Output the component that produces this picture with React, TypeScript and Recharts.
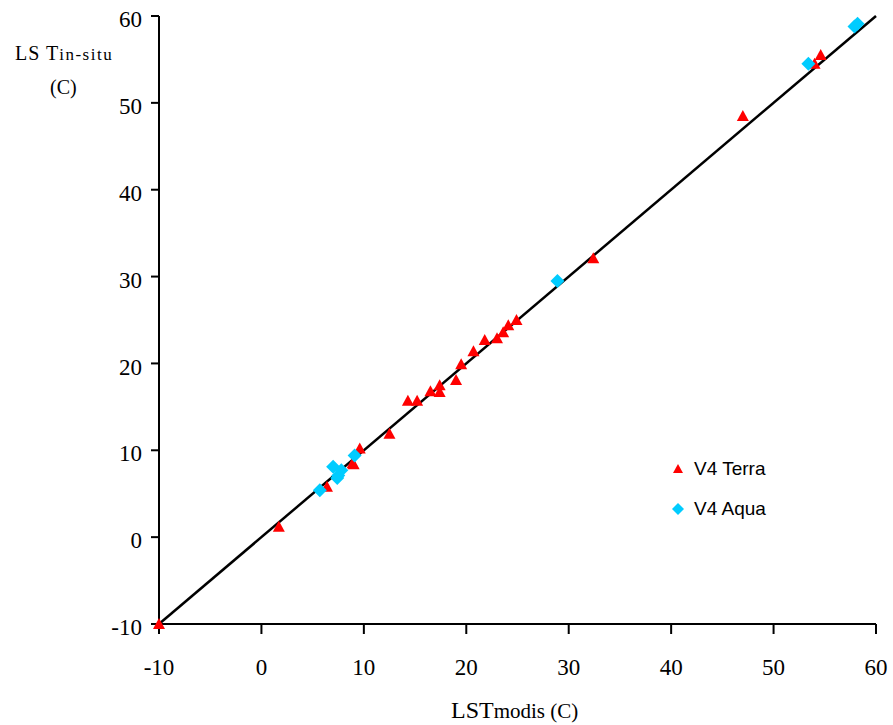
import { ScatterChart, Scatter, XAxis, YAxis, ReferenceLine } from "recharts";

// LSTmodis vs LSTin-situ
const terraX = [-10, 1.7, 6.4, 8.9, 9.0, 9.6, 12.5, 14.3, 15.2, 16.5, 17.4, 17.4, 19.0, 19.5, 20.7, 21.8, 23.0, 23.6, 24.1, 24.9, 32.4, 47.0, 54.0, 54.6];
const terraY = [-10, 1.2, 5.8, 8.5, 8.4, 10.2, 11.9, 15.7, 15.7, 16.8, 17.5, 16.7, 18.1, 19.9, 21.4, 22.7, 22.9, 23.6, 24.4, 25.0, 32.1, 48.5, 54.5, 55.5];

const aquaX = [5.7, 7.0, 7.4, 7.5, 7.8, 9.1, 28.9, 53.4, 57.9, 58.2];
const aquaY = [5.4, 8.1, 6.8, 7.1, 7.7, 9.4, 29.5, 54.5, 58.8, 59.1];

const axisTicks = [-10, 0, 10, 20, 30, 40, 50, 60];
const seriesNames = ["V4 Terra", "V4 Aqua"];

const terraData = terraX.map((x, i) => ({ x, y: terraY[i] }));
const aquaData = aquaX.map((x, i) => ({ x, y: aquaY[i] }));

const RED = "#ff0000";
const CYAN = "#00ccff";
const SERIF = "'Liberation Serif', 'Times New Roman', serif";
const SANS = "'Liberation Sans', Arial, sans-serif";

function Triangle(props: any) {
  const { cx, cy } = props;
  return <path d={`M${cx},${cy - 6} L${cx + 6},${cy + 5} L${cx - 6},${cy + 5} Z`} fill={RED} />;
}

function Diamond(props: any) {
  const { cx, cy } = props;
  return <path d={`M${cx},${cy - 7} L${cx + 7},${cy} L${cx},${cy + 7} L${cx - 7},${cy} Z`} fill={CYAN} />;
}

function LegendBox() {
  return (
    <div style={{ fontFamily: SANS, fontSize: 19, color: "#000", lineHeight: "40px" }}>
      <div style={{ display: "flex", alignItems: "center" }}>
        <svg width={16} height={16} style={{ marginRight: 8 }}>
          <path d="M8,3 L13,12 L3,12 Z" fill={RED} />
        </svg>
        {seriesNames[0]}
      </div>
      <div style={{ display: "flex", alignItems: "center" }}>
        <svg width={16} height={16} style={{ marginRight: 8 }}>
          <path d="M8,2 L14,8 L8,14 L2,8 Z" fill={CYAN} />
        </svg>
        {seriesNames[1]}
      </div>
    </div>
  );
}

export default function App() {
  const tick = { fontSize: 23, fill: "#000", fontFamily: SERIF };
  return (
    <div style={{ position: "absolute", left: 0, top: 0, width: 893, height: 725, background: "#fff" }}>
      <ScatterChart width={893} height={725} margin={{ top: 16, right: 17, bottom: 0, left: 0 }}>
        <XAxis
          type="number"
          dataKey="x"
          domain={[-10, 60]}
          ticks={axisTicks}
          height={101}
          tick={tick}
          tickSize={10}
          tickMargin={25}
          stroke="#000"
          strokeWidth={2}
        />
        <YAxis
          type="number"
          dataKey="y"
          domain={[-10, 60]}
          ticks={axisTicks}
          width={159}
          tick={{ ...tick, dy: 3 }}
          tickSize={8}
          tickMargin={9}
          stroke="#000"
          strokeWidth={2}
        />
        <ReferenceLine
          segment={[{ x: -10, y: -10 }, { x: 60, y: 60 }]}
          stroke="#000"
          strokeWidth={2.5}
          ifOverflow="visible"
        />
        <Scatter name={seriesNames[0]} data={terraData} shape={<Triangle />} isAnimationActive={false} />
        <Scatter name={seriesNames[1]} data={aquaData} shape={<Diamond />} isAnimationActive={false} />
      </ScatterChart>
      <div style={{ position: "absolute", left: 670, top: 449, width: 140 }}>
        <LegendBox />
      </div>
      <div style={{ position: "absolute", left: 15, top: 42, fontFamily: SERIF, whiteSpace: "nowrap" }}>
        <span style={{ fontSize: 20, letterSpacing: 1 }}>LS T</span>
        <span style={{ fontSize: 17, letterSpacing: 1.5 }}>in-situ</span>
      </div>
      <div style={{ position: "absolute", left: 50, top: 76, fontFamily: SERIF, fontSize: 20 }}>(C)</div>
      <div style={{ position: "absolute", left: 451, top: 697, fontFamily: SERIF, whiteSpace: "nowrap" }}>
        <span style={{ fontSize: 24 }}>LST</span>
        <span style={{ fontSize: 21 }}>modis (C)</span>
      </div>
    </div>
  );
}
